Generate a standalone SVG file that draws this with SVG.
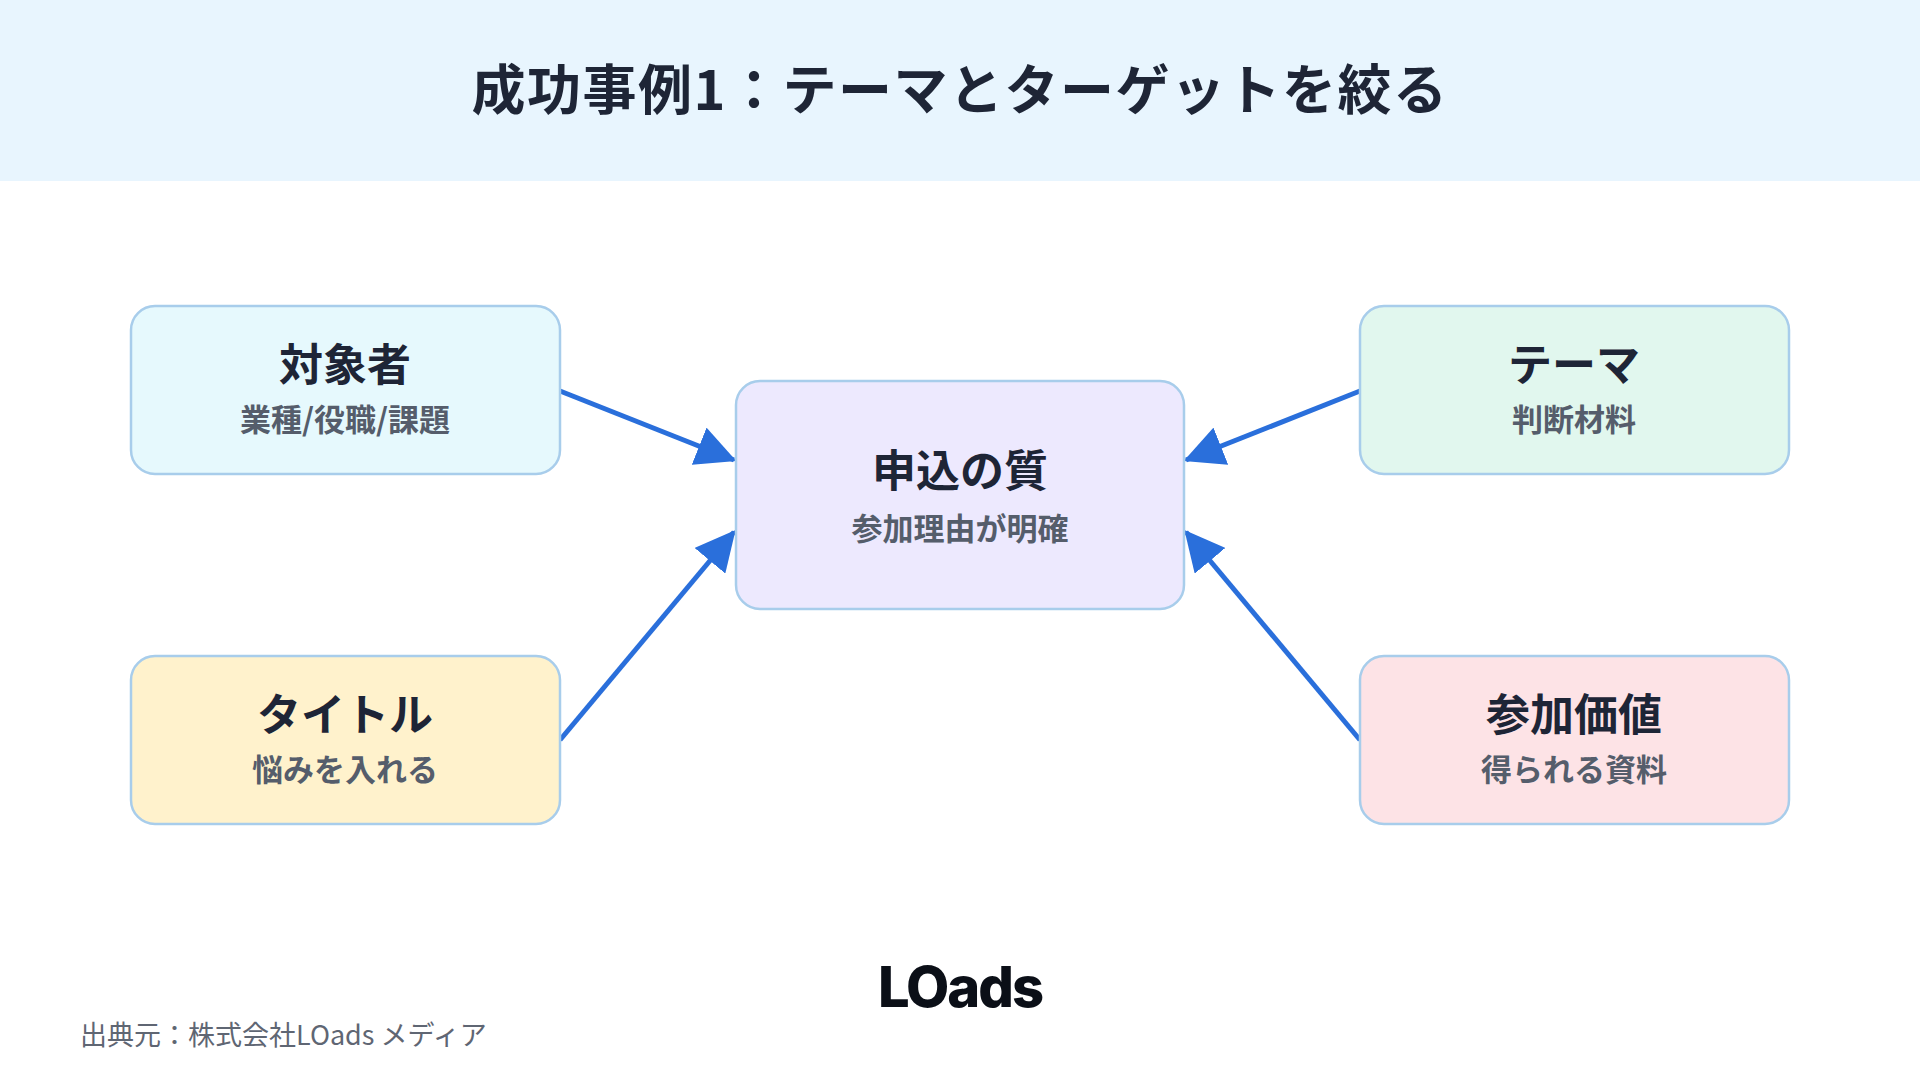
<svg xmlns="http://www.w3.org/2000/svg" width="1920" height="1080" viewBox="0 0 1920 1080">
<defs>
<marker id="ah" markerWidth="8" markerHeight="8" refX="7.5" refY="4" orient="auto" markerUnits="strokeWidth">
<path d="M0,0 L8,4 L0,8 Z" fill="#2a6fdb"/>
</marker>
<style>
.box{stroke:#a8cdeb;stroke-width:2.5}
.t{font-family:"Noto Sans CJK JP","Noto Sans",sans-serif;font-weight:700;fill:#1e2536;text-anchor:middle}
.m{font-size:44px}
.s{font-size:31px;fill:#555d6b}
.c{stroke:#2a6fdb;stroke-width:5;fill:none;marker-end:url(#ah)}
</style>
</defs>
<rect width="1920" height="1080" fill="#fff"/>
<rect width="1920" height="181" fill="#e8f5fe"/>
<text x="960" y="110" class="t" style="font-size:54px;letter-spacing:1.5px">成功事例1：テーマとターゲットを絞る</text>
<g id="connectors">
<line class="c" x1="560" y1="391" x2="734" y2="460"/>
<line class="c" x1="1360" y1="391" x2="1186" y2="460"/>
<line class="c" x1="560" y1="740" x2="734" y2="532"/>
<line class="c" x1="1360" y1="740" x2="1186" y2="532"/>
</g>
<g id="target">
<rect class="box" x="131" y="306" width="429" height="168" rx="24" fill="#e6f9fd"/>
<text x="345" y="381" class="t m">対象者</text>
<text x="345" y="431" class="t s">業種/役職/課題</text>
</g>
<g id="theme">
<rect class="box" x="1360" y="306" width="429" height="168" rx="24" fill="#e1f7ee"/>
<text x="1574" y="381" class="t m">テーマ</text>
<text x="1574" y="431" class="t s">判断材料</text>
</g>
<g id="quality">
<rect class="box" x="736" y="381" width="448" height="228" rx="24" fill="#ede9fe"/>
<text x="960" y="487" class="t m">申込の質</text>
<text x="960" y="540" class="t s">参加理由が明確</text>
</g>
<g id="title">
<rect class="box" x="131" y="656" width="429" height="168" rx="24" fill="#fff2cc"/>
<text x="345" y="731" class="t m">タイトル</text>
<text x="345" y="781" class="t s">悩みを入れる</text>
</g>
<g id="value">
<rect class="box" x="1360" y="656" width="429" height="168" rx="24" fill="#fde3e6"/>
<text x="1574" y="731" class="t m">参加価値</text>
<text x="1574" y="781" class="t s">得られる資料</text>
</g>
<text x="960" y="1007" style="font-family:Inter,sans-serif;font-weight:800;font-size:56px;fill:#0b0f17;letter-spacing:-2px" text-anchor="middle">LOads</text>
<text x="80" y="1045" style="font-family:'Noto Sans CJK JP',sans-serif;font-size:27px;fill:#5f6673">出典元：株式会社LOads メディア</text>
</svg>
